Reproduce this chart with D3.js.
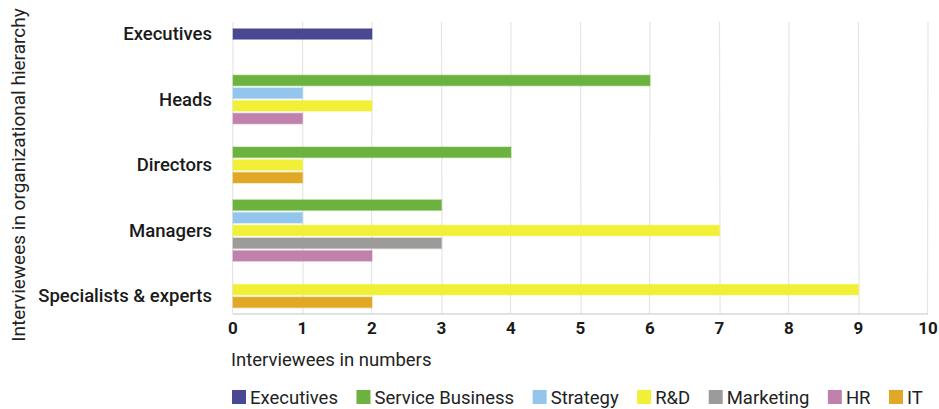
<!DOCTYPE html>
<html><head><meta charset="utf-8">
<script src="https://cdn.jsdelivr.net/npm/d3@7"></script>
<style>
body{margin:0;background:#fff;}
svg{display:block;font-family:Roboto,"DejaVu Sans Condensed",sans-serif;}
</style></head>
<body><svg id="c" width="939" height="409"></svg>
<script>
const categories = ["Executives","Heads","Directors","Managers","Specialists & experts"];
const seriesNames = ["Executives","Service Business","Strategy","R&D","Marketing","HR","IT"];
const seriesColors = ["#4a4893","#6cb23e","#94c5ec","#f1f036","#9c9b99","#c081ac","#e0a824"];
// values[series][category]
const execValues      = [2,0,0,0,0];
const serviceValues   = [0,6,4,3,0];
const strategyValues  = [0,1,0,1,0];
const rdValues        = [0,2,1,7,9];
const marketingValues = [0,0,0,3,0];
const hrValues        = [0,1,0,2,0];
const itValues        = [0,0,1,0,2];
const seriesValues = [execValues,serviceValues,strategyValues,rdValues,marketingValues,hrValues,itValues];
const xTicks = [0,1,2,3,4,5,6,7,8,9,10];

const svg = d3.select("#c");
const x = d3.scaleLinear().domain([0,10]).range([233,928]);
const y = d3.scalePoint().domain(categories).range([34,296]);
const barH = 10.5, step = 12.7, axisY = 314;

// grid
svg.append("g").selectAll("line").data(xTicks).join("line")
  .attr("x1",d=>x(d)).attr("x2",d=>x(d)+ (d%2?0.6:-0.5))
  .attr("y1",22).attr("y2",axisY)
  .attr("stroke","#e6e6e6").attr("stroke-width",1.2);
svg.append("line").attr("x1",x(0)).attr("x2",x(10)).attr("y1",axisY).attr("y2",axisY)
  .attr("stroke","#d9d9d9").attr("stroke-width",1.5);

// bars
const bars = [];
categories.forEach((c,ci)=>{
  const present = seriesNames.map((s,si)=>({s,si,v:seriesValues[si][ci]})).filter(d=>d.v>0);
  const n = present.length;
  present.forEach((d,k)=>{
    bars.push({cat:c, si:d.si, v:d.v, cy:y(c) + (k-(n-1)/2)*step});
  });
});
svg.append("g").selectAll("rect").data(bars).join("rect")
  .attr("x",x(0)).attr("y",d=>d.cy-barH/2)
  .attr("width",d=>x(d.v)-x(0)).attr("height",barH)
  .attr("fill",d=>seriesColors[d.si])
  .attr("stroke",d=>seriesColors[d.si]).attr("stroke-opacity",0.35).attr("stroke-width",1.5);

// category labels
svg.append("g").selectAll("text").data(categories).join("text")
  .attr("x",212).attr("y",d=>y(d)).attr("dy","0.35em")
  .attr("text-anchor","end").attr("font-size",18.5).attr("font-weight",500).attr("fill","#1a1a1a")
  .text(d=>d);

// x tick labels
svg.append("g").selectAll("text").data(xTicks).join("text")
  .attr("x",d=>x(d)).attr("y",328).attr("dy","0.36em")
  .attr("text-anchor","middle").attr("font-size",17).attr("font-weight",700).attr("fill","#1a1a1a")
  .text(d=>d);

svg.append("text").attr("x",231).attr("y",366).attr("font-size",18.5).attr("fill","#222")
  .text("Interviewees in numbers");
svg.append("text").attr("transform","translate(25,175) rotate(-90)")
  .attr("text-anchor","middle").attr("font-size",19).attr("fill","#222")
  .text("Interviewees in organizational hierarchy");

// legend
const lg = svg.append("g");
let lx = 232;
seriesNames.forEach((s,i)=>{
  lg.append("rect").attr("x",lx).attr("y",390).attr("width",14).attr("height",14).attr("fill",seriesColors[i]);
  const t = lg.append("text").attr("x",lx+18).attr("y",397).attr("dy","0.36em")
    .attr("font-size",18.5).attr("fill","#222").text(s);
  lx += 18 + t.node().getComputedTextLength() + 18.5;
});
</script></body></html>
